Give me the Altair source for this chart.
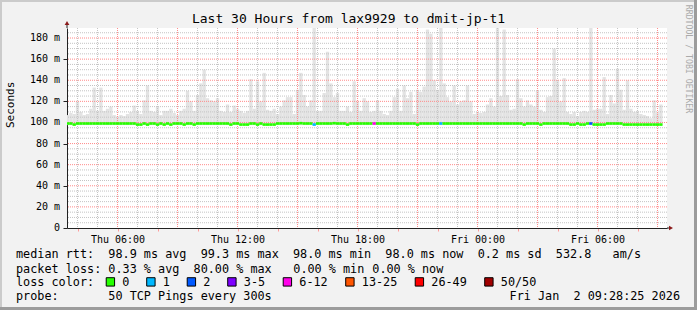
import altair as alt
import pandas as pd

MONO = "DejaVu Sans Mono"

BIN_START = "2026-01-01T03:25:00"
BIN_MINUTES = 10
SMOKE_FLOOR = 97.5
RANGE_START = "2026-01-01T03:28:25"
RANGE_END = "2026-01-02T09:28:25"

smoke_max = [
    107, 109, 108, 120, 110, 107, 108, 113, 133, 111, 133, 111, 113, 115, 107,
    105, 107, 106, 108, 110, 116, 111, 108, 121, 135, 111, 110, 115, 107, 111,
    111, 113, 109, 107, 111, 113, 130, 120, 111, 126, 137, 150, 123, 121, 120,
    123, 111, 110, 117, 110, 116, 113, 111, 109, 111, 141, 113, 139, 120, 147,
    112, 111, 113, 108, 115, 121, 124, 124, 108, 131, 147, 126, 115, 121, 250,
    111, 111, 128, 167, 137, 124, 128, 111, 111, 115, 110, 139, 120, 111, 123,
    120, 110, 111, 121, 111, 108, 107, 111, 124, 132, 111, 135, 123, 129, 108,
    131, 129, 134, 188, 184, 140, 131, 250, 137, 124, 120, 135, 117, 120, 121,
    135, 120, 108, 110, 109, 110, 117, 123, 115, 190, 125, 188, 126, 112, 113,
    141, 123, 115, 121, 117, 115, 130, 112, 110, 124, 125, 170, 140, 120, 142,
    110, 108, 110, 106, 110, 111, 110, 250, 112, 113, 113, 143, 108, 126, 118,
    151, 131, 112, 140, 113, 110, 111, 108, 107, 106, 104, 121, 109, 117,
]

median_rtt = [
    99.0, 99.0, 98.0, 99.0, 99.0, 99.0, 99.0, 99.0, 99.0, 99.0, 99.0, 99.0, 99.0, 99.0, 99.0,
    99.0, 99.0, 99.0, 99.0, 99.0, 99.0, 98.0, 98.0, 99.0, 98.0, 99.0, 99.0, 98.0, 99.0, 98.0,
    99.0, 98.0, 99.0, 99.0, 99.0, 98.0, 99.0, 99.0, 98.0, 99.0, 99.0, 99.0, 99.0, 99.0, 99.0,
    99.0, 99.0, 99.0, 99.0, 98.0, 99.0, 99.0, 98.0, 98.0, 98.0, 99.0, 99.0, 98.0, 99.0, 98.0,
    98.0, 98.0, 98.0, 99.0, 99.0, 99.0, 99.0, 99.0, 99.0, 99.0, 99.3, 99.0, 99.0, 99.0, 98.0,
    99.0, 99.0, 99.0, 99.0, 99.0, 99.3, 99.0, 99.0, 99.0, 98.0, 99.0, 99.0, 99.0, 99.0, 99.0,
    99.0, 99.0, 99.0, 99.0, 99.0, 99.0, 99.0, 99.0, 99.0, 99.0, 99.0, 99.0, 99.0, 99.0, 99.0,
    98.0, 99.0, 99.0, 99.0, 99.0, 99.0, 99.0, 99.0, 99.0, 99.0, 99.0, 99.0, 99.0, 99.0, 99.0,
    99.0, 99.0, 99.0, 99.0, 99.0, 99.0, 99.0, 99.0, 99.0, 99.0, 99.0, 99.0, 99.0, 99.0, 99.0,
    99.0, 99.0, 98.0, 99.0, 99.0, 99.0, 99.0, 98.0, 99.0, 99.0, 99.0, 99.0, 99.0, 99.0, 99.0,
    99.0, 98.0, 98.0, 99.0, 98.0, 98.0, 99.0, 99.0, 98.0, 98.0, 98.0, 98.0, 99.0, 99.0, 99.0,
    99.0, 99.0, 98.0, 98.0, 98.0, 98.0, 98.0, 98.0, 98.0, 98.0, 98.0, 98.0, 98.0, 98.0,
]

loss_bin_index = [74, 92, 112, 157]
loss_bin_class = ["1", "6-12", "1", "2"]

LOSS_LABELS = ["0", "1", "2", "3-5", "6-12", "13-25", "26-49", "50/50"]
LOSS_COLORS = ["#26ff00", "#00b8ff", "#0059ff", "#7e00ff", "#ff00ea", "#ff5500", "#ff0000", "#a10000"]

Y_MAJOR = [20, 40, 60, 80, 100, 120, 140, 160, 180]
Y_MINOR = [5, 10, 15, 25, 30, 35, 45, 50, 55, 65, 70, 75, 85, 90, 95, 105, 110, 115,
           125, 130, 135, 145, 150, 155, 165, 170, 175, 185]
Y_LABELED = [0] + Y_MAJOR
Y_LABELS = ["0", "20 m", "40 m", "60 m", "80 m", "100 m", "120 m", "140 m", "160 m", "180 m"]

TITLE = "Last 30 Hours from lax9929 to dmit-jp-t1"
ROW1 = "median rtt:  98.9 ms avg  99.3 ms max  98.0 ms min  98.0 ms now  0.2 ms sd  532.8   am/s"
ROW2A = "packet loss: 0.33 % avg  80.00 % max"
ROW2B = "0.00 % min"
ROW2C = "0.00 % now"
ROW3 = "loss color:"
ROW4 = "probe:       50 TCP Pings every 300s"
STAMP = "Fri Jan  2 09:28:25 2026"
SIDE = "RRDTOOL / TOBI OETIKER"


def ms(ts):
    return int((pd.Timestamp(ts) - pd.Timestamp("1970-01-01")) // pd.Timedelta(milliseconds=1))


def keep_spaces(s):
    return s.replace(" ", "\u00a0")


n = len(smoke_max)
t0 = pd.date_range(BIN_START, periods=n, freq=f"{BIN_MINUTES}min")
t1 = t0 + pd.Timedelta(minutes=BIN_MINUTES)
loss = ["0"] * n
for i, c in zip(loss_bin_index, loss_bin_class):
    loss[i] = c
df = pd.DataFrame({
    "t0": [ms(t) for t in t0],
    "t1": [ms(t) for t in t1],
    "smax": smoke_max,
    "smin": [SMOKE_FLOOR] * n,
    "median": median_rtt,
    "loss": loss,
})

hours = pd.date_range("2026-01-01T04:00:00", "2026-01-02T09:00:00", freq="1h")
hour_ticks = [ms(t) for t in hours]
x_major = pd.DataFrame({"v": [ms(t) for t in hours if t.hour % 3 == 0]})
x_minor = pd.DataFrame({"v": [ms(t) for t in hours if t.hour % 3 != 0]})
y_major = pd.DataFrame({"v": Y_MAJOR})
y_minor = pd.DataFrame({"v": Y_MINOR})
y_lab = pd.DataFrame({"v": Y_LABELED, "label": Y_LABELS})

x_scale = alt.Scale(type="utc", domain=[ms(RANGE_START), ms(RANGE_END)], nice=False)
y_scale = alt.Scale(domain=[0, 189.5], nice=False, zero=False)

x_axis = alt.Axis(
    title=None,
    values=hour_ticks,
    labelExpr="utchours(datum.value) % 6 == 0 ? utcFormat(datum.value, '%a %H:%M') : ''",
    labelOverlap=False, labelFlush=False,
    labelFont=MONO, labelFontSize=10, labelColor="black", labelPadding=3,
    tickSize=3, tickColor="#ff9a9a",
    domainColor="#222222",
    grid=False,
)
y_axis = alt.Axis(
    title=None,
    values=Y_LABELED,
    labels=False,
    tickSize=4, tickColor="#222222",
    domainColor="#222222",
    grid=False,
)

base = alt.Chart(df)

smoke = base.mark_rect(color="#e3e3e3", clip=True).encode(
    x=alt.X("t0:T", scale=x_scale, axis=x_axis),
    x2="t1:T",
    y=alt.Y("smax:Q", scale=y_scale, axis=y_axis),
    y2="smin:Q",
)


def vgrid(frame, color):
    return alt.Chart(frame).mark_rule(color=color, strokeDash=[1, 1], strokeWidth=1).encode(
        x=alt.X("v:T", title=None))


def hgrid(frame, color):
    return alt.Chart(frame).mark_rule(color=color, strokeDash=[1, 1], strokeWidth=1).encode(
        y=alt.Y("v:Q", title=None))


grids = [
    vgrid(x_minor, "#c4c4c4"), hgrid(y_minor, "#c4c4c4"),
    vgrid(x_major, "#ff8a8a"), hgrid(y_major, "#ff8a8a"),
]

y_labels = alt.Chart(y_lab).mark_text(
    font=MONO, fontSize=10, align="right", baseline="middle", color="black"
).encode(
    y=alt.Y("v:Q", title=None), x=alt.value(-7), text="label:N",
)

median = base.mark_rule(strokeWidth=2.6, clip=True).encode(
    x=alt.X("t0:T", title=None), x2="t1:T",
    y=alt.Y("median:Q", title=None),
    color=alt.Color("loss:N", scale=alt.Scale(domain=LOSS_LABELS, range=LOSS_COLORS), legend=None),
)

legend_layer = base.transform_filter("false").mark_square(
    filled=True, size=70, stroke="black", strokeWidth=1, opacity=1
).encode(
    x=alt.X("t0:T", title=None),
    y=alt.Y("median:Q", title=None),
    color=alt.Color("loss:N", scale=alt.Scale(domain=LOSS_LABELS, range=LOSS_COLORS), legend=alt.Legend(
        title=None, orient="none", legendX=37.5, legendY=248,
        direction="horizontal", columns=8, gridAlign="none", symbolType="square",
        symbolSize=70, symbolStrokeWidth=1, symbolStrokeColor="black",
        symbolOpacity=1, columnPadding=14.5,
        labelFont=MONO, labelFontSize=11.8, labelColor="black",
        labelOffset=6, padding=0, labelLimit=200,
    )),
)

one = alt.Data(values=[{}])


def txt(s, x, y, size=11.8, align="left", angle=0, color="black"):
    return alt.Chart(one).mark_text(
        text=keep_spaces(s), font=MONO, fontSize=size, align=align, baseline="middle",
        angle=angle, color=color,
    ).encode(x=alt.value(x), y=alt.value(y))


texts = [
    txt(TITLE, 281.5, -9.5, size=13, align="center"),
    txt("Seconds", -56, 100, size=11, angle=270),
    txt(SIDE, 620.5, 31, size=8.2, angle=90, color="#aaaaaa", align="center"),
    txt(ROW1, -51, 226),
    txt(ROW2A, -51, 240.5),
    txt(ROW2B, 226.3, 240.5),
    txt(ROW2C, 305.3, 240.5),
    txt(ROW3, -51, 254),
    txt(ROW4, -51, 268),
    txt(STAMP, 613, 268, align="right"),
]

ext_y = alt.Chart(one).mark_rule(color="#222222").encode(x=alt.value(0), y=alt.value(-5), y2=alt.value(0))
ext_x = alt.Chart(one).mark_rule(color="#222222").encode(x=alt.value(600), x2=alt.value(603), y=alt.value(200))
arrow_y = alt.Chart(one).mark_point(shape="triangle-up", filled=True, size=22, color="#8b1a1a", opacity=1).encode(
    x=alt.value(0), y=alt.value(-5))
arrow_x = alt.Chart(one).mark_point(shape="triangle-right", filled=True, size=22, color="#8b1a1a", opacity=1).encode(
    x=alt.value(604), y=alt.value(200))

f_top = alt.Chart(one).mark_rule(color="#cbcbcb", strokeWidth=2).encode(x=alt.value(-67), x2=alt.value(630), y=alt.value(-27))
f_left = alt.Chart(one).mark_rule(color="#cbcbcb", strokeWidth=2).encode(x=alt.value(-66), y=alt.value(-28), y2=alt.value(282))
f_right = alt.Chart(one).mark_rule(color="#9c9c9c", strokeWidth=3).encode(x=alt.value(628.5), y=alt.value(-28), y2=alt.value(282))
f_bottom = alt.Chart(one).mark_rule(color="#9c9c9c", strokeWidth=3).encode(x=alt.value(-67), x2=alt.value(630), y=alt.value(280.5))

chart = alt.layer(
    smoke, *grids, median, legend_layer, y_labels, ext_y, ext_x, arrow_y, arrow_x, *texts,
    f_top, f_left, f_right, f_bottom
).resolve_scale(
    color="independent"
).properties(
    width=600, height=200,
    padding={"left": 67, "top": 28, "right": 30, "bottom": 82},
    autosize=alt.AutoSizeParams(type="none"),
).configure(
    background="#f2f2f2", font=MONO,
).configure_view(
    fill="white", stroke=None,
)

chart.save("out.html", embed_options={"renderer": "svg", "actions": False})
